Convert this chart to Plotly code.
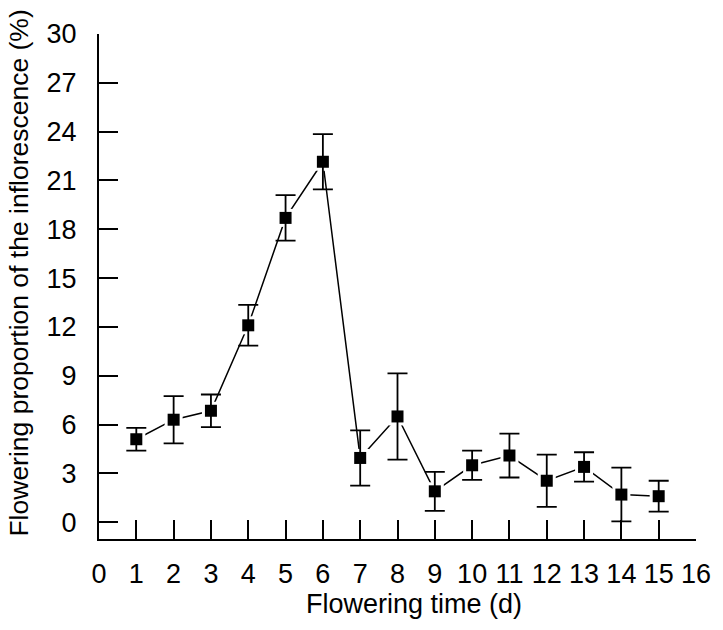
import plotly.graph_objects as go

# flowering day and mean proportion (%) with error
days = list(range(1, 16))
proportion = [5.1, 6.3, 6.85, 12.1, 18.7, 22.15, 3.95, 6.5, 1.9, 3.5, 4.1, 2.55, 3.4, 1.7, 1.6]
err = [0.7, 1.45, 1.0, 1.25, 1.4, 1.7, 1.7, 2.65, 1.2, 0.9, 1.35, 1.6, 0.9, 1.65, 0.95]

x_ticks = list(range(0, 17))
y_ticks = list(range(0, 31, 3))

font = "Liberation Sans, Arial, sans-serif"

fig = go.Figure()

# connecting line, with white squares so the line stops short of each marker
fig.add_trace(go.Scatter(
    x=days, y=proportion, mode="lines+markers",
    line=dict(color="black", width=1.5),
    marker=dict(symbol="square", size=18, color="white"),
    hoverinfo="skip", showlegend=False,
))

# black markers with error bars on top
fig.add_trace(go.Scatter(
    x=days, y=proportion, mode="markers",
    marker=dict(symbol="square", size=12, color="black"),
    error_y=dict(type="data", array=err, visible=True,
                 color="black", thickness=1.8, width=10),
    showlegend=False,
))

axis_common = dict(
    showline=True, linecolor="black", linewidth=2,
    ticks="inside", ticklen=19, tickwidth=2, tickcolor="black",
    showgrid=False, zeroline=False,
    tickfont=dict(family=font, size=27, color="black"),
)

fig.update_xaxes(range=[0, 16], tickvals=x_ticks, ticklabelstandoff=10, **axis_common)
fig.update_yaxes(range=[-1.03, 30], tickvals=y_ticks, ticklabelstandoff=15, **axis_common)

fig.update_layout(
    width=723, height=630,
    margin=dict(l=98.5, r=15.5, t=34.3, b=90.7),
    plot_bgcolor="white", paper_bgcolor="white",
    font=dict(family=font, size=27, color="black"),
    annotations=[
        dict(text="Flowering time (d)", xref="paper", yref="paper",
             x=0.528, y=-0.128, showarrow=False,
             xanchor="center", yanchor="middle",
             font=dict(family=font, size=27, color="black")),
        dict(text="Flowering proportion of the inflorescence (%)",
             xref="paper", yref="paper", x=-0.1345, y=0.527,
             textangle=-90, showarrow=False,
             xanchor="center", yanchor="middle",
             font=dict(family=font, size=26.5, color="black")),
    ],
)

# drop the default 8px body margin so the figure fills the window
fig.write_html("out.html", config={"displayModeBar": False},
               post_script="document.body.style.margin='0px';")
